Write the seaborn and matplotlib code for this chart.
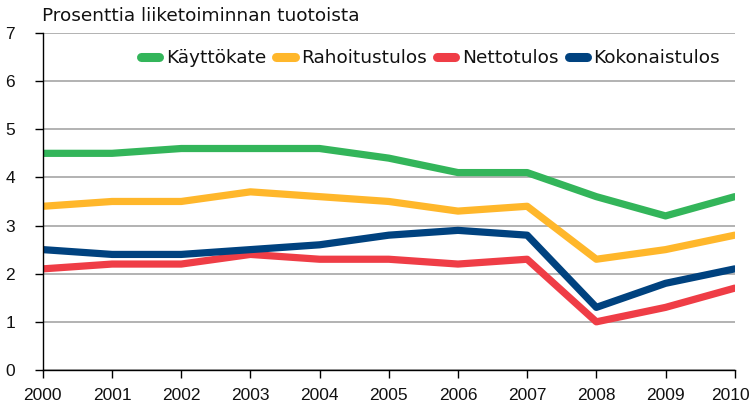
import matplotlib
matplotlib.use("Agg")
import matplotlib.pyplot as plt
import matplotlib.transforms as mtransforms
import seaborn as sns
import pandas as pd

years = [2000, 2001, 2002, 2003, 2004, 2005, 2006, 2007, 2008, 2009, 2010]
kayttokate = [4.5, 4.5, 4.6, 4.6, 4.6, 4.4, 4.1, 4.1, 3.6, 3.2, 3.6]
rahoitustulos = [3.4, 3.5, 3.5, 3.7, 3.6, 3.5, 3.3, 3.4, 2.3, 2.5, 2.8]
nettotulos = [2.1, 2.2, 2.2, 2.4, 2.3, 2.3, 2.2, 2.3, 1.0, 1.3, 1.7]
kokonaistulos = [2.5, 2.4, 2.4, 2.5, 2.6, 2.8, 2.9, 2.8, 1.3, 1.8, 2.1]
series_names = ["Käyttökate", "Rahoitustulos", "Nettotulos", "Kokonaistulos"]
colors = ["#33B55A", "#FFB72B", "#EF3D46", "#00427F"]
title = "Prosenttia liiketoiminnan tuotoista"

sns.set_theme(style="white")
plt.rcParams["font.family"] = ["DejaVu Sans"]
tick_fam = ["Liberation Sans", "DejaVu Sans"]

df = pd.DataFrame({
    "year": years * 4,
    "value": kayttokate + rahoitustulos + nettotulos + kokonaistulos,
    "series": sum([[n] * len(years) for n in series_names], []),
})

fig = plt.figure(figsize=(7.52, 4.12), dpi=100)
ax = fig.add_axes([0.057, 0.102, 0.920, 0.818])
sns.lineplot(data=df, x="year", y="value", hue="series", hue_order=series_names,
             palette=colors, linewidth=5.2, ax=ax, legend=True,
             solid_capstyle="round", solid_joinstyle="round")

ax.set_xlim(2000, 2010)
ax.set_ylim(0, 7)
ax.set_xticks(years)
ax.set_xticklabels([str(y) for y in years], fontsize=12.5, color="#111111", family=tick_fam)
ax.set_yticks(range(0, 8))
ax.set_yticklabels([str(v) for v in range(0, 8)], fontsize=12.5, color="#111111", family=tick_fam)
ax.set_xlabel("")
ax.set_ylabel("")
ax.grid(axis="y", color="#A6A6A6", linewidth=1.2)
ax.set_axisbelow(True)
for s in ["top", "right"]:
    ax.spines[s].set_visible(False)
for s in ["left", "bottom"]:
    ax.spines[s].set_color("black")
    ax.spines[s].set_linewidth(1.0)
ax.tick_params(axis="x", direction="out", length=6, width=1.0, color="black", bottom=True, pad=7)
ax.tick_params(axis="y", direction="out", length=6, width=1.0, color="black", left=True, pad=14)

# keep the last year label inside the figure
last = ax.get_xticklabels()[-1]
last.set_horizontalalignment("right")
last.set_transform(last.get_transform() + mtransforms.ScaledTranslation(15 / 100, 0, fig.dpi_scale_trans))
first = ax.get_xticklabels()[0]

handles, labels = ax.get_legend_handles_labels()
leg = ax.legend(handles, labels, loc="upper right", bbox_to_anchor=(0.995, 0.985), ncol=4,
                frameon=False, fontsize=13.3, handlelength=1.0, handletextpad=0.35,
                columnspacing=0.55, borderaxespad=0.2)
for h in leg.get_lines():
    h.set_linewidth(6.5)
    h.set_solid_capstyle("round")
for t in leg.get_texts():
    t.set_color("#111111")

fig.text(0.056, 0.962, title, fontsize=13.3, ha="left", va="center", color="#111111")

fig.savefig("out.png", dpi=100)
